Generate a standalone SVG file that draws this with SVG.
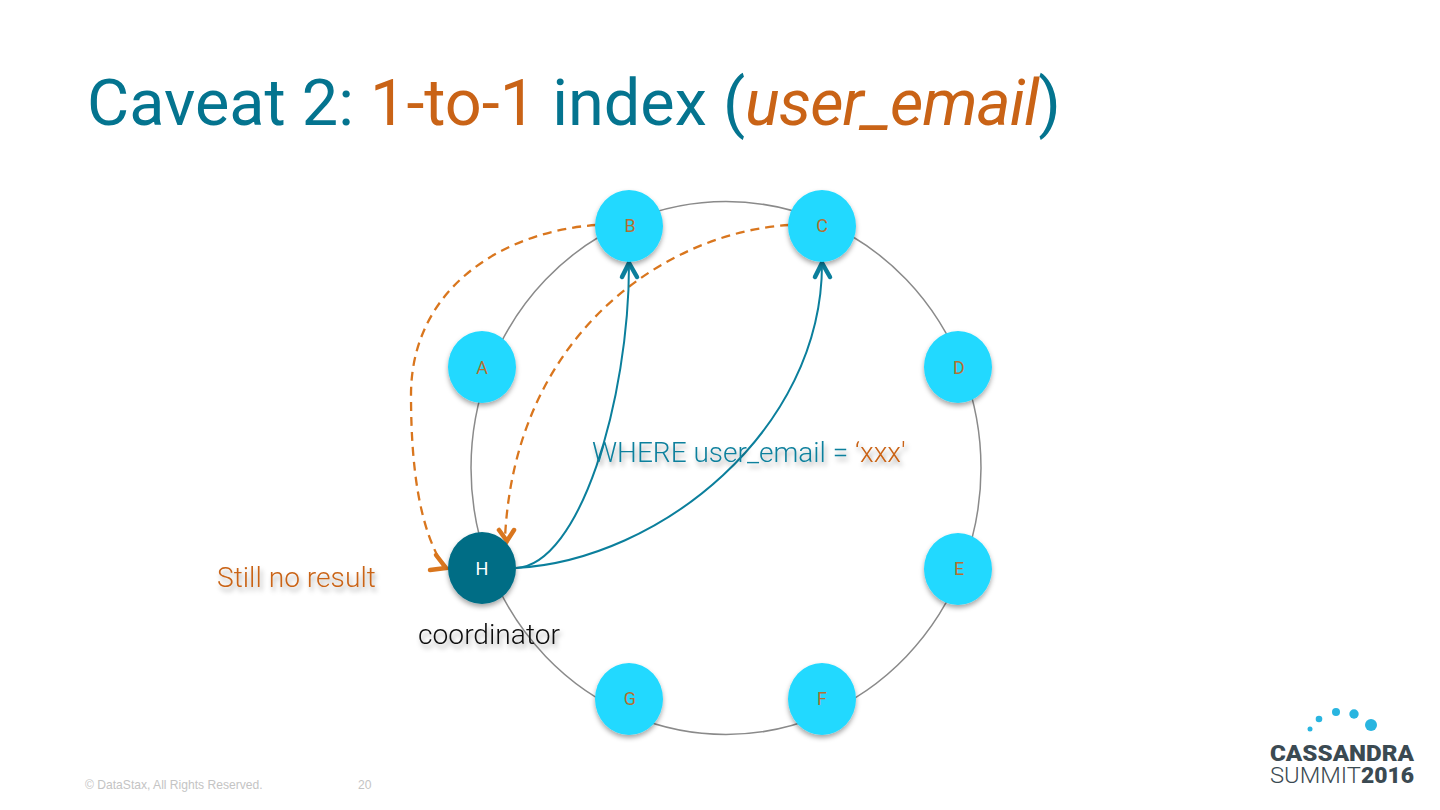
<svg xmlns="http://www.w3.org/2000/svg" width="1440" height="810" viewBox="0 0 1440 810">
<style>
.t{font-family:Roboto,"Liberation Sans",sans-serif}
.n{fill:#24d9ff;filter:url(#s)}
.l{font-family:Roboto,"Liberation Sans",sans-serif;font-size:18px;fill:#b5702f;text-anchor:middle}
.o{fill:none;stroke:#d9761e;stroke-width:2.300;stroke-dasharray:9 6}
.b{fill:none;stroke:#0b7f9c;stroke-width:2}
.ah{fill:none;stroke-width:4.500;stroke-linecap:round;stroke-linejoin:miter}
</style>
<defs>
<filter id="s" x="-30%" y="-30%" width="160%" height="170%"><feDropShadow dx="0" dy="3" stdDeviation="2.5" flood-color="#000" flood-opacity="0.35"/></filter>
<filter id="ts" x="-10%" y="-30%" width="120%" height="180%"><feDropShadow dx="2" dy="4" stdDeviation="2.5" flood-color="#000" flood-opacity="0.35"/></filter>
</defs>
<rect width="1440" height="810" fill="#fff"/>
<text class="t" x="87" y="125" font-size="64.800" font-weight="400" fill="#04748f">Caveat 2: <tspan fill="#c96316">1-to-1</tspan> index (<tspan fill="#c96316" font-style="italic" letter-spacing="-1">user_email</tspan>)</text>
<ellipse id="ring" cx="726" cy="468" rx="255" ry="266.500" fill="none" stroke="#8a8a8a" stroke-width="1.500"/>
<g id="connectors">
<path class="o" d="M596 225C500 232 411 290 411 395C411 470 420 530 444 567"/>
<path class="ah" stroke="#d9761e" d="M430 570L446 568L436 555"/>
<path class="o" d="M789 225C670 232 515 330 505 538"/>
<path class="ah" stroke="#d9761e" d="M499 530L507 541L514 530"/>
<path class="b" d="M516 568C580 565 629 400 629 264"/>
<path class="b" d="M516 568C660 560 822 430 822 264"/>
<path class="ah" stroke="#0b7f9c" d="M622 277L629 263L637 277"/>
<path class="ah" stroke="#0b7f9c" d="M815 277L822 263L830 277"/>
</g>
<g id="node-a"><ellipse class="n" cx="482" cy="367" rx="34" ry="36"/><text class="l" x="482" y="374">A</text></g>
<g id="node-b"><ellipse class="n" cx="629" cy="226" rx="34" ry="36"/><text class="l" x="630" y="232">B</text></g>
<g id="node-c"><ellipse class="n" cx="822" cy="226" rx="34" ry="36"/><text class="l" x="822" y="232">C</text></g>
<g id="node-d"><ellipse class="n" cx="958" cy="367" rx="34" ry="36"/><text class="l" x="959" y="374">D</text></g>
<g id="node-e"><ellipse class="n" cx="958" cy="569" rx="34" ry="36"/><text class="l" x="959" y="575">E</text></g>
<g id="node-f"><ellipse class="n" cx="822" cy="699" rx="34" ry="36"/><text class="l" x="822" y="705">F</text></g>
<g id="node-g"><ellipse class="n" cx="629" cy="699" rx="34" ry="36"/><text class="l" x="630" y="705">G</text></g>
<g id="node-h"><ellipse class="n" style="fill:#046d85" cx="482" cy="568" rx="34" ry="36"/><text class="l" style="fill:#fff" x="482" y="575">H</text></g>
<text class="t" id="where" x="592" y="462" font-size="28" font-weight="300" fill="#0b7f9c" filter="url(#ts)">WHERE user_email = <tspan fill="#c96316">‘xxx'</tspan></text>
<text class="t" id="still" x="217" y="587" font-size="28.200" font-weight="300" fill="#c96316" filter="url(#ts)">Still no result</text>
<text class="t" id="coord" x="418" y="644" font-size="28.200" font-weight="300" fill="#111" filter="url(#ts)">coordinator</text>
<text x="85" y="789" font-family="'Liberation Sans',sans-serif" font-size="12.100" fill="#c4c4c4">© DataStax, All Rights Reserved.</text>
<text x="358" y="789" font-family="'Liberation Sans',sans-serif" font-size="12.100" fill="#c4c4c4">20</text>
<g id="logo">
<g fill="#29b5e0"><circle cx="1310" cy="729" r="2.500"/><circle cx="1319" cy="719" r="3.300"/><circle cx="1336" cy="712" r="4"/><circle cx="1354" cy="714" r="4.700"/><circle cx="1371" cy="725" r="6"/></g>
<text x="1270" y="761" font-family="Roboto,'Liberation Sans',sans-serif" font-weight="900" font-size="22" fill="#3b4a52" textLength="144" lengthAdjust="spacingAndGlyphs">CASSANDRA</text>
<text x="1270" y="783" font-family="Roboto,'Liberation Sans',sans-serif" font-weight="300" font-size="22" fill="#3b4a52" textLength="91" lengthAdjust="spacingAndGlyphs">SUMMIT</text>
<text x="1361" y="783" font-family="Roboto,'Liberation Sans',sans-serif" font-weight="900" font-size="22" fill="#3b4a52" textLength="53" lengthAdjust="spacingAndGlyphs">2016</text>
</g>
</svg>
